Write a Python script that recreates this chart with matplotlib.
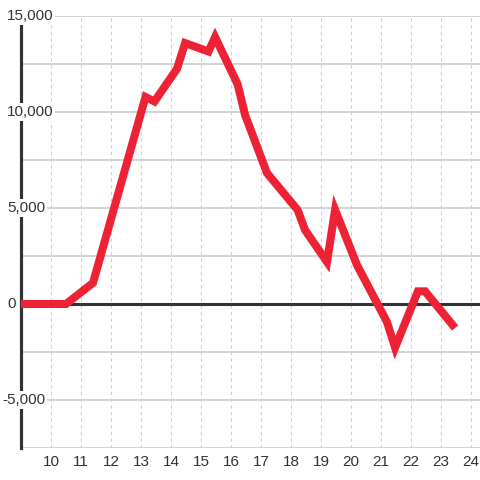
import matplotlib
matplotlib.use("Agg")
import matplotlib.pyplot as plt

plt.rcParams['font.family'] = ['Liberation Sans', 'DejaVu Sans']

# values
x = [9.0, 10.5, 11.4, 13.15, 13.45, 14.2, 14.47, 15.25, 15.47, 16.22, 16.47,
     17.2, 18.22, 18.47, 19.2, 19.47, 20.2, 21.2, 21.47, 22.23, 22.47, 23.47]
y = [0, 0, 1100, 10780, 10550, 12250, 13590, 13150, 13900, 11450, 9840,
     6820, 4900, 3850, 2190, 4900, 2030, -940, -2270, 660, 660, -1250]

xticks = list(range(10, 25))
ylabels = [15000, 10000, 5000, 0, -5000]

fig = plt.figure(figsize=(4.8, 4.8), dpi=100)
ax = fig.add_axes([21/480, 32/480, 459/480, 432/480])
ax.set_xlim(9.0, 24.3)
ax.set_ylim(-7500, 15000)

ax.set_xticks(xticks)
ax.set_xticklabels([str(t) for t in xticks])
ax.set_yticks(range(-7500, 15001, 2500))
ax.set_yticklabels([])
ax.tick_params(axis='both', length=0)
ax.tick_params(axis='x', labelsize=11, labelcolor='#333333', pad=5)

ax.grid(axis='x', color='#cfcfcf', ls=(0, (3, 3)), lw=0.8)
ax.grid(axis='y', color='#c8c8c8', ls='-', lw=1.1)
ax.set_axisbelow(True)

for s in ['top', 'right', 'bottom']:
    ax.spines[s].set_visible(False)
ax.spines['left'].set_linewidth(2.3)
ax.spines['left'].set_color('#333333')
ax.spines['left'].set_zorder(2)

ax.axhline(0, color='#333333', lw=2.2, zorder=3)

ax.plot(x, y, color='#ee2235', lw=5.8, solid_joinstyle='miter',
        solid_capstyle='butt', zorder=4)

tr = ax.get_yaxis_transform()
for v in ylabels:
    off = -14/459 if v >= 0 else -18.5/459
    ax.text(off, v, '{:,}'.format(v), transform=tr,
            ha='left', va='center', fontsize=11, color='#333333',
            bbox=dict(boxstyle='square,pad=0.12', fc='white', ec='none'),
            zorder=6, clip_on=False)

fig.savefig('out.png', dpi=100, facecolor='white')
